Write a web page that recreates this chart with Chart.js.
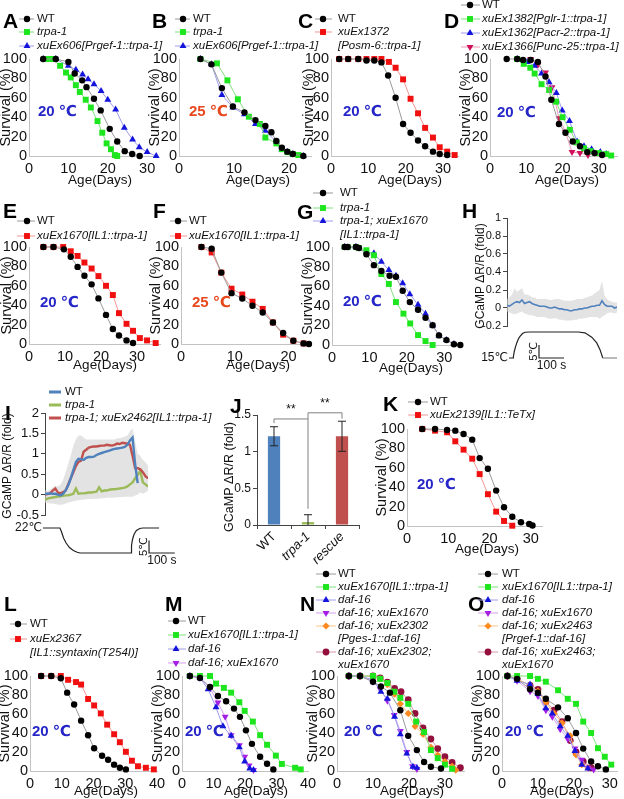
<!DOCTYPE html>
<html><head><meta charset="utf-8">
<script src="https://cdn.jsdelivr.net/npm/chart.js@4.4.1/dist/chart.umd.min.js"></script>
<style>
html,body{margin:0;padding:0;background:#fff;width:624px;height:799px;overflow:hidden;position:relative}
canvas{position:absolute}
</style></head><body>
<script>
// ===================== DATA =====================
const A_wt_day=[3.6,6.8,10,11.6,13.5,14.6,16.5,18.2,20.5,22.4,24.3,26.2,28.1];
const A_wt_surv=[100,100,97,85,78,71,59,47,28,15,5,2,0];
const A_trpa_day=[4.7,5.9,7.9,9.4,10.6,11.9,12.9,14.4,15.7,17.4,18.6,19.7,20.8,21.8,22.4];
const A_trpa_surv=[100,100,93,86,81,73,66,58,50,36,24,13,7,1,0];
const A_pan_day=[3.6,6.8,10,11.9,13.6,15,16.5,18.3,20,22,24.2,26.3,28,30,32.3];
const A_pan_surv=[100,100,93,89,84,79,74,67,58,48,29,17,9,4,0];
const B_wt_day=[3.9,5.9,7.8,9.8,11.9,13.9,15.7,16.8,17.7,18.7,19.7,20.7,22.6];
const B_wt_surv=[100,94.5,70,51,45,37,31,24.5,15.5,8.5,4.5,2,0];
const B_trpa_day=[3.9,6.9,8.8,10.7,12.7,14.7,15.7,17.7,18.7,19.7,20.7,21.7];
const B_trpa_surv=[100,95.5,78,58.5,40.5,33,19,13,7,4,2,1];
const B_pan_day=[3.9,5.9,7.8,9.8,11.9,13.9,15.7,17.7,18.7,19.7,20.7,22.6];
const B_pan_surv=[100,94.5,63,50,43,33,26,14.5,7,4,2,0];
const C_wt_day=[2.2,4.6,7.3,9.5,11.6,13.5,15.3,17.3,19.3,21.3,23.3,25.2,27.3,29.1,31.1];
const C_wt_surv=[100,100,100,98.5,98.5,96.5,83,60,33,24,16,10,4.5,2,1];
const C_osm_day=[2.2,4.6,7.3,9.5,11.6,13.5,15.5,17.3,19.3,21.3,23.3,25.2,27.3,29.1,31.1,33.1];
const C_osm_surv=[100,100,100,100,100,100,97,91,79,59,44,29,19,9,4.5,1];
const D_wt_day=[4.6,7.5,9.1,11.2,13.2,15.3,16.9,19,20.8,22.8,24.8,26.8,28.8,30.9];
const D_wt_surv=[100,100,99,99,97,82,58,33,24,15,10,4,3,1];
const D_glr_day=[7.5,9.3,11.1,12.3,14.2,16.3,18.2,20,22,23.9,25.9,27.7,30,32,33.4];
const D_glr_surv=[100,95,91,85,74,68,56,40,27,14,8,5,3,2,0.5];
const D_acr_day=[7.5,10.2,12.3,14.2,16.3,18.3,19.9,21.9,24,25.9,28,30.4,32];
const D_acr_surv=[100,97,93,85,76,65,47,36,15,10,7,4,2];
const D_unc_day=[11.2,13.2,15.3,17.1,19,20.8,22.6,24.8,27];
const D_unc_surv=[100,94,86,71,39,25,4,3,1];
const E_wt_day=[4,6.8,9.7,11.6,13.5,15.4,17.4,19.3,21.4,23.3,25,27.1,28.9];
const E_wt_surv=[100,100,97.6,90,79.5,70.3,61.5,47,30,15.4,8.8,3.7,1];
const E_il1_day=[4,6.8,9.5,11.6,13.5,15.4,17.4,19.3,21.4,23.3,25,27.1,28.9,30.8,32.8,35.2];
const E_il1_surv=[100,100,100,95.6,90.8,84,77.8,70,60,50.5,31.8,20.8,13.6,6.1,3.7,1];
const F_wt_day=[3.8,5.7,7.5,9.4,11.4,13.3,15.2,17.1,19,20.9,22.8,23.8];
const F_wt_surv=[100,98.3,73.6,52.4,46.9,39.4,32.5,22.2,11.3,3.4,0.6,0];
const F_il1_day=[3.8,5.7,7.5,9.4,11.4,13.3,15.2,17.1,19,20.9,22.8];
const F_il1_surv=[100,94.4,73.6,57,51,43.6,36.2,22.2,9.6,3.4,0.6];
const G_wt_day=[3.4,4.2,6.4,7.2,9.2,11.2,13.2,15.4,17.1,18.9,20.8,23,25,26.9,28.6,30.6,32.6,34.3];
const G_wt_surv=[100,100,100,99,92.6,81.5,75.5,70.7,69.7,55.3,43.8,36,27.7,20.2,9.8,5,0.7,0];
const G_trpa_day=[3.4,4.2,6.4,7.2,9.2,11.2,13.2,15.2,17.1,19.1,20.9,23,25,26.9];
const G_trpa_surv=[100,100,100,99,96.7,91.6,72.4,62.3,43.8,32,22,10.1,4,0];
const G_res_day=[3.4,6.4,9.2,11.2,13.2,15.2,17.1,18.9,20.8,23,25,26.9,28.6,30.6,32.6];
const G_res_surv=[100,100,95,93.6,85,76.5,70.7,63,51.9,41,32,20,9.8,5,1];
const H_time=[0,10,20,30,40,50,60,70,80,90,100,110,120,130,140,150,160,170,180,190,200,210,220,230,240,250,260,270,280,290,300,310,320,330,340,350,360,370,380,390,400,410,420,430,440];
const H_wt=[0.03,0.02,0.04,0.06,0.07,0.06,0.09,0.05,0.06,0.07,0.05,0.04,0.03,0.02,0.02,0.02,0.01,0.0,0.0,0.01,0.0,-0.01,-0.01,-0.02,-0.02,-0.03,-0.03,-0.02,-0.02,-0.01,-0.01,0.0,0.0,0.01,0.02,0.02,0.03,0.03,0.08,0.04,0.02,0.02,0.02,0.0,0.01];
const H_hi=[0.1,0.12,0.15,0.22,0.18,0.2,0.22,0.15,0.15,0.14,0.12,0.12,0.1,0.1,0.1,0.1,0.1,0.09,0.09,0.1,0.1,0.1,0.09,0.08,0.08,0.08,0.08,0.09,0.1,0.1,0.1,0.11,0.12,0.13,0.14,0.16,0.18,0.2,0.3,0.14,0.1,0.08,0.07,0.06,0.06];
const H_lo=[-0.04,-0.05,-0.06,-0.07,-0.06,-0.05,-0.04,-0.06,-0.07,-0.08,-0.08,-0.09,-0.1,-0.1,-0.1,-0.1,-0.11,-0.12,-0.12,-0.11,-0.12,-0.13,-0.13,-0.14,-0.14,-0.14,-0.14,-0.13,-0.13,-0.12,-0.12,-0.11,-0.11,-0.1,-0.1,-0.1,-0.1,-0.12,-0.1,-0.08,-0.06,-0.05,-0.05,-0.06,-0.05];
const H_tempTime=[8,24,25.5,29,34,39,46,52,62,72,92,285,312,339,359,372,383,440];
const H_tempVal=[15,15,15.5,17.5,19.3,20.8,22.4,23.3,24.4,24.9,25,25,24.7,23,20.8,18.2,15,15];
const H_ticks=[-0.2,0,0.2,0.4,0.6,0.8,1];
const I_time=[0,10,20,30,40,50,60,70,80,90,100,110,120,130,140,150,160,170,180,190,200,210,220,230,240,250,260,270,280,290,300,310,320,330,340,350,360,370,380,390,400];
const I_wt=[0.02,0.02,0.03,0.02,0.02,0.0,-0.02,0.02,0.1,0.22,0.4,0.6,0.8,0.88,0.87,0.85,0.9,0.92,0.92,0.93,0.97,1.0,1.02,1.04,1.06,1.08,1.1,1.12,1.13,1.14,1.15,1.17,1.22,1.33,1.4,0.75,0.28,null,null,null,null];
const I_trpa=[-0.12,-0.1,-0.08,-0.07,-0.06,-0.05,-0.04,-0.03,-0.02,-0.02,0.0,0.02,0.15,0.02,0.03,0.03,0.04,0.05,0.05,0.06,0.07,0.18,0.08,0.1,0.1,0.12,0.13,0.13,0.14,0.15,0.16,0.17,0.2,0.25,0.3,0.4,0.48,0.58,0.3,0.25,0.2];
const I_res=[0.0,0.01,0.03,0.1,0.15,0.05,0.03,0.06,0.1,0.25,0.4,0.55,0.7,0.8,0.83,1.05,1.1,1.15,1.17,1.18,1.18,1.19,1.2,1.2,1.22,1.21,1.2,1.22,1.25,1.24,1.27,1.26,1.25,1.22,0.95,0.65,0.65,0.62,0.55,0.45,0.4];
const I_hi=[0.1,0.1,0.12,0.18,0.22,0.2,0.25,0.35,0.55,0.75,0.95,1.2,1.35,1.45,1.45,1.4,1.35,1.35,1.35,1.35,1.35,1.35,1.35,1.35,1.35,1.35,1.35,1.35,1.38,1.38,1.4,1.42,1.45,1.55,1.62,1.3,1.0,0.95,0.85,0.8,0.7];
const I_lo=[-0.2,-0.2,-0.22,-0.22,-0.23,-0.25,-0.25,-0.24,-0.22,-0.2,-0.18,-0.16,-0.15,-0.14,-0.13,-0.12,-0.12,-0.11,-0.11,-0.1,-0.1,-0.1,-0.09,-0.09,-0.08,-0.08,-0.08,-0.07,-0.07,-0.06,-0.06,-0.05,-0.05,-0.05,-0.05,-0.02,0.0,0.05,0.02,0.05,0.1];
const I_tempTime=[-8,58,64,72,82,95,110,125,136,334,336,340,346,355,368,380,443];
const I_tempVal=[22,22,20.5,18,16,14.2,13,12.3,12,12,15,17.5,19.5,21,21.8,22,22];
const I_ticks=[-0.5,0,0.5,1,1.5,2];
const J_cats=['WT','trpa-1','rescue'];
const J_mean=[1.21,0.04,1.21];
const J_sem=[0.13,0.1,0.205];
const J_ticks=[0,0.5,1,1.5];
const K_wt_day=[3.7,6.8,9.7,11.7,13.7,15.8,17.6,19.6,21.6,23.5,25.5,27.6,29.6,30.4];
const K_wt_surv=[100,100,99,98.3,94.8,89,70,59,36.5,19.3,9.6,3.8,2.1,0.5];
const K_tetx_day=[3.7,6.8,9.7,11.7,13.7,15.8,17.6,19.6,21.6,23.5,25.5];
const K_tetx_surv=[100,98.3,96.6,87.3,78.7,69.4,53.5,32.8,14.8,5.2,0.3];
const L_wt_day=[3.5,6.7,9.7,11.7,13.9,16.1,18.3,20.2,22.7,24.6,26.5,28.3,30.2];
const L_wt_surv=[100,100,97.6,82.5,70,53,37.7,24,16,11.8,6.7,3.4,1.7];
const L_syn_day=[3.5,6.7,9.7,12,14.5,16.1,18.3,20.2,22.3,24.3,26.5,28.3,30.2,32.1,34,36.5,39];
const L_syn_surv=[100,100,100,96,93.6,91,75.8,69,60.6,48.8,38.7,30.3,20.2,10.8,5,3.4,1.7];
const M_wt_day=[2.5,5.7,8.9,11.4,14,16.5,18.4,20.3,22.2,24.8,27,29];
const M_wt_surv=[100,98,88.5,79,73.4,65.7,57,42.8,28.6,15,7.7,1.7];
const M_il1_day=[2.5,5.7,8.9,10.8,13.3,15.6,18.2,19.9,22.5,24.8,27,29.8,31.7,35.9,37.7];
const M_il1_surv=[100,100,100,92,87.5,82.5,72.4,63.3,52,37.7,27.6,16.2,7.4,3.4,1.7];
const M_daf_day=[2.5,5.7,8.3,10.8,13,15.6,18.2,19.9,21.5,22.7];
const M_daf_surv=[100,98,86,67,47,37,25,10,2.7,1];
const M_dafx_day=[2.5,5.7,8.9,11.4,13.7,15.6,18.2,19.9,21.3,22.7];
const M_dafx_surv=[100,98,87,72,57,37.7,27,15,5.7,1];
const N_wt_day=[3.3,6.4,10,12.2,14.7,17.6,19.8,22.2,24.2,26.1,28.9];
const N_wt_surv=[100,100,94,89,82.5,64,37,22,9.4,4.4,2.7];
const N_il1_day=[3.3,6.4,10,12,14,15.9,17.6,19.8,22,24.2,26.1,28,30,32];
const N_il1_surv=[100,100,100,97,92.6,83.5,77,70.7,52,41,22,13.5,6.7,2.4];
const N_daf_day=[3.3,6.4,10,12.2,14,16,17.6,19.4,21.1,22.2];
const N_daf_surv=[100,100,96,83.5,76,57,38.7,18.5,4.4,3.4];
const N_dafx_day=[3.3,6.4,10,12,14,15.9,17.6,19.4,21,22.2];
const N_dafx_surv=[100,100,94,86,74,59,42,20,5,2];
const N_ges_day=[3.3,6.4,10,12,14,16,17.6,19.8,21.7,23.9,26.1,28,30,32,33];
const N_ges_surv=[100,100,100,97,91,81,70.7,60.6,47,38.7,25,16.8,10,5,1];
const N_gesx_day=[3.3,6.4,10,12,14,16,17.8,19.8,21.7,23.9,26.1,28,30,32,34.3];
const N_gesx_surv=[100,100,100,98,93.6,87,83.5,75,60.6,45.5,33.7,23.6,15,9,3.4];
const O_wt_day=[1.5,4.2,7.8,10,12.2,15.6,18.3,20.6,22.6,24.8,26.7,28.9];
const O_wt_surv=[100,97,86,82.5,76,67,55.5,40,23.6,10,5,1.7];
const O_il1_day=[1.5,4.2,7.8,10,12.2,15.6,18.3,20.6,22.6,24.8,26.7,28.6,30.4];
const O_il1_surv=[100,100,100,97,94,85,76,70.7,52,40,24,15,6.7];
const O_daf_day=[1.5,4.2,7.8,10,12.2,14,16.2,18.3,20.3,22.2,23.9];
const O_daf_surv=[100,95,91,81,66,60.6,47,37,21,6.7,2.7];
const O_dafx_day=[1.5,4.2,7.8,10,12.2,14,16.2,18.3,20.3,22.2,24,25.5];
const O_dafx_surv=[100,95,84,79,64,57,44,33.7,23.6,11.8,3.4,1.7];
const O_rgef_day=[1.5,4.2,7.8,10,12.2,14.5,16.7,19,20.6,22.2,23.9];
const O_rgef_surv=[100,97,90,84,72,60.6,50.5,37,17,6.7,3.4];
const O_rgefx_day=[1.5,4.2,7.8,10,12.2,14.5,16.7,19,20.6,22.6,24.8];
const O_rgefx_surv=[100,97,90,86,73,64,52,32,20,10,3.4];

// ===================== STYLE / HELPERS =====================
const FONT="'Liberation Sans', Arial, 'DejaVu Sans', sans-serif";
const AX='#c2c2c2', BLUE_T='#2626c8', RED_T='#e8481e';
const LEGF=11.5;
const STY={
  wt:{ps:'circle',r:3.2,fill:'#000',line:'#9a9a9a'},
  green:{ps:'rect',r:4.2,fill:'#1ee61e',line:'#7fe27f'},
  blue:{ps:'triangle',r:4,fill:'#1414dc',line:'#9c9cf0'},
  red:{ps:'rect',r:4.2,fill:'#f01010',line:'#f59595'},
  crimson:{ps:'triangle',rot:180,r:4,fill:'#d0105a',line:'#eb9ab8'},
  violet:{ps:'triangle',rot:180,r:4,fill:'#a51ee6',line:'#d5a0f0'},
  orange:{ps:'rectRot',r:3.6,fill:'#ff8a1e',line:'#ffc488'},
  maroon:{ps:'circle',r:3.4,fill:'#94103c',line:'#d896ae'}
};
function font(sz,it,b){return (it?'italic ':'')+(b?'bold ':'')+sz+'px '+FONT;}
function mkCanvas(x0,y0,w,h){const c=document.createElement('canvas');c.width=w;c.height=h;
  c.style.left=x0+'px';c.style.top=y0+'px';c.style.width=w+'px';c.style.height=h+'px';document.body.appendChild(c);return c;}
function over(fn){return {id:'ov',afterDraw(ch){const ctx=ch.ctx;ctx.save();fn(ch,ctx);ctx.restore();}};}
function marker(ctx,key,x,y){const s=STY[key];ctx.fillStyle=s.fill;ctx.beginPath();const r=s.r;
  if(s.ps==='circle'){ctx.arc(x,y,r,0,Math.PI*2);}
  else if(s.ps==='rect'){const a=r*Math.SQRT1_2;ctx.rect(x-a,y-a,2*a,2*a);}
  else if(s.ps==='rectRot'){ctx.moveTo(x,y-r);ctx.lineTo(x+r,y);ctx.lineTo(x,y+r);ctx.lineTo(x-r,y);ctx.closePath();}
  else {let a=(s.rot||0)*Math.PI/180;for(let k=0;k<3;k++){const px=x+Math.sin(a)*r,py=y-Math.cos(a)*r;k?ctx.lineTo(px,py):ctx.moveTo(px,py);a+=2*Math.PI/3;}ctx.closePath();}
  ctx.fill();}
function segs(ctx,arr,x,y,sz){ctx.textAlign='left';ctx.textBaseline='middle';ctx.fillStyle='#111';
  arr.forEach(([t,it])=>{ctx.font=font(sz,it);ctx.fillText(t,x,y);x+=ctx.measureText(t).width;});}
function letter(ctx,t,x,y,x0,y0){ctx.fillStyle='#000';ctx.font=font(21,0,1);ctx.textAlign='left';ctx.textBaseline='middle';ctx.fillText(t,x-x0,y-y0);}
function vtext(ctx,t,x,y,sz){ctx.save();ctx.translate(x,y);ctx.rotate(-Math.PI/2);ctx.font=font(sz);ctx.fillStyle='#111';ctx.textAlign='center';ctx.textBaseline='middle';ctx.fillText(t,0,0);ctx.restore();}
const BASE={responsive:false,animation:false,devicePixelRatio:1,events:[],plugins:{legend:{display:false},tooltip:{enabled:false}}};

// ===================== SURVIVAL PANELS =====================
function survival(p){
  const [x0,y0,w,h]=p.box,[pl,pt,pr,pb]=p.plot;
  const c=mkCanvas(x0,y0,w,h);
  const datasets=p.series.map(s=>{const st=STY[s.st];return{
    data:s.x.map((v,i)=>({x:v,y:s.y[i]})),showLine:true,borderColor:st.line,borderWidth:1,
    pointStyle:st.ps,pointRotation:st.rot||0,pointRadius:st.r,pointBackgroundColor:st.fill,
    pointBorderColor:st.fill,pointBorderWidth:0,clip:false}});
  const tick={family:FONT,size:14.5};
  new Chart(c,{type:'scatter',data:{datasets},options:Object.assign({},BASE,{
    layout:{padding:{left:0,top:pt-y0,right:x0+w-pr,bottom:0}},
    scales:{
      x:{type:'linear',min:0,max:p.xmax,afterFit:s=>{s.height=y0+h-pb;},grid:{display:false,drawTicks:false},
        border:{display:true,color:AX,width:1},ticks:{stepSize:10,includeBounds:false,autoSkip:false,maxRotation:0,padding:4,color:'#111',font:tick}},
      y:{type:'linear',min:0,max:100,afterFit:s=>{s.width=pl-x0;},grid:{display:false,drawTicks:false},
        border:{display:true,color:AX,width:1},ticks:{stepSize:20,autoSkip:false,padding:2,color:'#111',font:tick}}
    }}),plugins:[over((ch,ctx)=>{
      letter(ctx,p.letter[0],p.letter[1],p.letter[2],x0,y0);
      const L=p.leg;
      L.rows.forEach(r=>{const y=r[0]-y0;
        if(r[1]){const s=STY[r[1]];ctx.strokeStyle=s.line;ctx.lineWidth=1;ctx.beginPath();ctx.moveTo(L.l1-x0,y);ctx.lineTo(L.l2-x0,y);ctx.stroke();marker(ctx,r[1],L.m-x0,y);}
        segs(ctx,r[2],L.t-x0,y,LEGF);});
      vtext(ctx,'Survival (%)',p.ytx-x0,(pt+pb)/2-y0,14.5);
      ctx.font=font(13.5);ctx.fillStyle='#111';ctx.textAlign='center';ctx.textBaseline='middle';
      ctx.fillText('Age(Days)',p.age[0]-x0,p.age[1]-y0);
      ctx.font=font(15,0,1);ctx.fillStyle=p.temp[3];ctx.textAlign='left';ctx.fillText(p.temp[0],p.temp[1]-x0,p.temp[2]-y0);
    })]});
}
const WT=[['WT',0]];
survival({box:[-1,0,181,187],plot:[29,59,157,156],xmax:32.5,letter:['A',3,22],ytx:6,age:[100,180],temp:['20 ℃',38,112,BLUE_T],
  leg:{l1:19,l2:34,m:27,t:37,rows:[[19,'wt',WT],[32,'green',[['trpa-1',1]]],[46,'blue',[['xuEx606[Prgef-1::trpa-1]',1]]]]},
  series:[{x:A_wt_day,y:A_wt_surv,st:'wt'},{x:A_trpa_day,y:A_trpa_surv,st:'green'},{x:A_pan_day,y:A_pan_surv,st:'blue'}]});
survival({box:[148,0,190,187],plot:[179,59,311,156],xmax:24,letter:['B',152,22],ytx:155,age:[258,180],temp:['25 ℃',189,112,RED_T],
  leg:{l1:175,l2:190,m:183,t:193,rows:[[19,'wt',WT],[32,'green',[['trpa-1',1]]],[46,'blue',[['xuEx606[Prgef-1::trpa-1]',1]]]]},
  series:[{x:B_wt_day,y:B_wt_surv,st:'wt'},{x:B_trpa_day,y:B_trpa_surv,st:'green'},{x:B_pan_day,y:B_pan_surv,st:'blue'}]});
survival({box:[295,0,172,187],plot:[331,59,458,156],xmax:34,letter:['C',298,22],ytx:309,age:[410,180],temp:['20 ℃',343,112,BLUE_T],
  leg:{l1:315,l2:332,m:323,t:338,rows:[[19,'wt',WT],[32,'red',[['xuEx1372',1]]],[46,null,[['[Posm-6::trpa-1]',1]]]]},
  series:[{x:C_wt_day,y:C_wt_surv,st:'wt'},{x:C_osm_day,y:C_osm_surv,st:'red'}]});
survival({box:[441,0,183,187],plot:[490,59,617,156],xmax:35,letter:['D',444,22],ytx:466,age:[567,180],temp:['20 ℃',497,113,BLUE_T],
  leg:{l1:461,l2:480,m:470,t:482,rows:[[5,'wt',WT],[19,'green',[['xuEx1382[Pglr-1::trpa-1]',1]]],[33,'blue',[['xuEx1362[Pacr-2::trpa-1]',1]]],[47,'crimson',[['xuEx1366[Punc-25::trpa-1]',1]]]]},
  series:[{x:D_wt_day,y:D_wt_surv,st:'wt'},{x:D_glr_day,y:D_glr_surv,st:'green'},{x:D_acr_day,y:D_acr_surv,st:'blue'},{x:D_unc_day,y:D_unc_surv,st:'crimson'}]});
survival({box:[-1,198,181,174],plot:[29,247,160,344],xmax:36.4,letter:['E',3,212],ytx:7,age:[105,365],temp:['20 ℃',40,303,BLUE_T],
  leg:{l1:17,l2:35,m:27,t:37,rows:[[221,'wt',WT],[236,'red',[['xuEx1670[IL1::trpa-1]',1]]]]},
  series:[{x:E_wt_day,y:E_wt_surv,st:'wt'},{x:E_il1_day,y:E_il1_surv,st:'red'}]});
survival({box:[149,198,181,174],plot:[181,247,310,344],xmax:24,letter:['F',153,212],ytx:156,age:[258,365],temp:['25 ℃',192,303,RED_T],
  leg:{l1:170,l2:187,m:178,t:189,rows:[[221,'wt',WT],[236,'red',[['xuEx1670[IL1::trpa-1]',1]]]]},
  series:[{x:F_wt_day,y:F_wt_surv,st:'wt'},{x:F_il1_day,y:F_il1_surv,st:'red'}]});
survival({box:[294,185,172,190],plot:[332,247,465,345],xmax:34.7,letter:['G',297,213],ytx:308,age:[411,368],temp:['20 ℃',343,302,BLUE_T],
  leg:{l1:313,l2:333,m:323,t:340,rows:[[193,'wt',WT],[208,'green',[['trpa-1',1]]],[221,'blue',[['trpa-1; xuEx1670',1]]],[235,null,[['[IL1::trpa-1]',1]]]]},
  series:[{x:G_wt_day,y:G_wt_surv,st:'wt'},{x:G_trpa_day,y:G_trpa_surv,st:'green'},{x:G_res_day,y:G_res_surv,st:'blue'}]});
survival({box:[375,392,249,164],plot:[407,429,542,526],xmax:32.7,letter:['K',383,405],ytx:382,age:[487,549],temp:['20 ℃',417,485,BLUE_T],
  leg:{l1:408,l2:428,m:418,t:430,rows:[[402,'wt',WT],[415,'red',[['xuEx2139[IL1::TeTx]',1]]]]},
  series:[{x:K_wt_day,y:K_wt_surv,st:'wt'},{x:K_tetx_day,y:K_tetx_surv,st:'red'}]});
survival({box:[-2,562,180,237],plot:[30,676,157,771],xmax:40,letter:['L',4,605],ytx:5,age:[106,791],temp:['20 ℃',32,732,BLUE_T],
  leg:{l1:10,l2:27,m:18,t:30,rows:[[624,'wt',WT],[639,'red',[['xuEx2367',1]]],[653,null,[['[IL1::syntaxin(T254I)]',1]]]]},
  series:[{x:L_wt_day,y:L_wt_surv,st:'wt'},{x:L_syn_day,y:L_syn_surv,st:'red'}]});
survival({box:[151,562,175,237],plot:[182,676,308,771],xmax:40,letter:['M',165,605],ytx:158,age:[256,791],temp:['20 ℃',185,732,BLUE_T],
  leg:{l1:168,l2:186,m:176,t:188,rows:[[621,'wt',WT],[635,'green',[['xuEx1670[IL1::trpa-1]',1]]],[649,'blue',[['daf-16',1]]],[663,'violet',[['daf-16; xuEx1670',1]]]]},
  series:[{x:M_wt_day,y:M_wt_surv,st:'wt'},{x:M_il1_day,y:M_il1_surv,st:'green'},{x:M_daf_day,y:M_daf_surv,st:'blue'},{x:M_dafx_day,y:M_dafx_surv,st:'violet'}]});
survival({box:[297,562,174,237],plot:[337,676,464,771],xmax:35.3,letter:['N',300,605],ytx:313,age:[412,791],temp:['20 ℃',344,732,BLUE_T],
  leg:{l1:316,l2:336,m:326,t:338,rows:[[574,'wt',WT],[587,'green',[['xuEx1670[IL1::trpa-1]',1]]],[600,'blue',[['daf-16',1]]],[613,'violet',[['daf-16; xuEx1670',1]]],[626,'orange',[['daf-16; xuEx2302',1]]],[639,null,[['[Pges-1::daf-16]',1]]],[652,'maroon',[['daf-16; xuEx2302;',1]]],[665,null,[['xuEx1670',1]]]]},
  series:[{x:N_wt_day,y:N_wt_surv,st:'wt'},{x:N_il1_day,y:N_il1_surv,st:'green'},{x:N_daf_day,y:N_daf_surv,st:'blue'},{x:N_dafx_day,y:N_dafx_surv,st:'violet'},{x:N_ges_day,y:N_ges_surv,st:'orange'},{x:N_gesx_day,y:N_gesx_surv,st:'maroon'}]});
survival({box:[465,562,159,237],plot:[502,676,617,771],xmax:32,letter:['O',468,605],ytx:478,age:[562,791],temp:['20 ℃',505,732,BLUE_T],
  leg:{l1:478,l2:498,m:488,t:502,rows:[[574,'wt',WT],[587,'green',[['xuEx1670[IL1::trpa-1]',1]]],[600,'blue',[['daf-16',1]]],[613,'violet',[['daf-16; xuEx1670',1]]],[626,'orange',[['daf-16; xuEx2463',1]]],[639,null,[['[Prgef-1::daf-16]',1]]],[652,'maroon',[['daf-16; xuEx2463;',1]]],[665,null,[['xuEx1670',1]]]]},
  series:[{x:O_wt_day,y:O_wt_surv,st:'wt'},{x:O_il1_day,y:O_il1_surv,st:'green'},{x:O_daf_day,y:O_daf_surv,st:'blue'},{x:O_dafx_day,y:O_dafx_surv,st:'violet'},{x:O_rgef_day,y:O_rgef_surv,st:'orange'},{x:O_rgefx_day,y:O_rgefx_surv,st:'maroon'}]});

// ===================== CALCIUM TRACES (H, I) =====================
function trace(p){
  const [x0,y0,w,h]=p.box,[pl,pt,pr,pb]=p.plot;
  const c=mkCanvas(x0,y0,w,h);
  const tMax=p.T.hi+(p.T.hiPx-pt)/p.T.pxPer, tMin=p.T.hi+(p.T.hiPx-pb)/p.T.pxPer;
  const xy=(xs,ys)=>xs.map((v,i)=>({x:v,y:ys[i]}));
  const ds=p.lines.map(l=>({data:xy(p.time,l.y),borderColor:l.c,borderWidth:p.lw,pointRadius:0,fill:false,yAxisID:'y'}));
  ds.push({data:xy(p.time,p.hi),borderWidth:0,pointRadius:0,fill:'+1',backgroundColor:'rgba(212,212,212,0.65)',yAxisID:'y'});
  ds.push({data:xy(p.time,p.lo),borderWidth:0,pointRadius:0,fill:false,yAxisID:'y'});
  ds.push({data:xy(p.tt,p.tv),borderColor:'#222',borderWidth:1.2,pointRadius:0,fill:false,clip:false,yAxisID:'yT',
    segment:{borderColor:ctx=>(p.greyFrom!==undefined&&ctx.p0.parsed.x>=p.greyFrom)?'#8a8a8a':'#222'}});
  const yt={family:FONT,size:p.tickSize};
  new Chart(c,{type:'line',data:{datasets:ds},options:Object.assign({},BASE,{
    layout:{padding:{left:0,top:pt-y0,right:x0+w-pr,bottom:y0+h-pb}},
    scales:{
      x:{type:'linear',min:0,max:p.xmax,display:false},
      y:{type:'linear',min:p.ymin,max:p.ymax,afterFit:s=>{s.width=pl-x0;},
        afterBuildTicks:s=>{s.ticks=p.ticks.map(v=>({value:v}));},
        grid:{display:true,drawOnChartArea:false,drawTicks:true,tickLength:4,color:'#444'},
        border:{display:true,color:'#444',width:1},ticks:{padding:2,color:'#111',font:yt,callback:v=>String(v)}},
      yT:{type:'linear',display:false,min:tMin,max:tMax}
    }}),plugins:[over((ch,ctx)=>{
      const X=ch.scales.x,YT=ch.scales.yT;
      letter(ctx,p.letter[0],p.letter[1],p.letter[2],x0,y0);
      vtext(ctx,'GCaMP \u0394R/R (fold)',p.ytx-x0,p.yty-y0,12);
      if(p.leg){p.leg.rows.forEach((r,i)=>{const y=r[0]-y0;ctx.strokeStyle=p.lines[r[2]].c;ctx.lineWidth=3;ctx.beginPath();ctx.moveTo(p.leg.l1-x0,y);ctx.lineTo(p.leg.l2-x0,y);ctx.stroke();segs(ctx,r[1],p.leg.t-x0,y,LEGF);});}
      ctx.font=font(12);ctx.fillStyle='#111';ctx.textAlign='right';ctx.textBaseline='middle';
      ctx.fillText(p.T.label,X.getPixelForValue(p.tt[0])-1,YT.getPixelForValue(p.tv[0]));
      const sb=p.bar, bx=X.getPixelForValue(sb.t), by=YT.getPixelForValue(sb.T), by2=YT.getPixelForValue(sb.T+5), bx2=X.getPixelForValue(sb.t+100);
      ctx.strokeStyle='#222';ctx.lineWidth=1.2;ctx.beginPath();ctx.moveTo(bx,by2);ctx.lineTo(bx,by);ctx.lineTo(bx2,by);ctx.stroke();
      ctx.save();ctx.translate(bx-5,(by+by2)/2);ctx.rotate(-Math.PI/2);ctx.font=font(11);ctx.textAlign='center';ctx.fillText('5℃',0,0);ctx.restore();
      ctx.font=font(12);ctx.textAlign='center';ctx.fillText('100 s',(bx+bx2)/2,by+8);
    })]});
}
trace({box:[460,198,164,175],plot:[507,218,617,326],xmax:440,ymin:-0.2,ymax:1,ticks:H_ticks,tickSize:11,lw:1.6,
  letter:['H',462,212],ytx:481,yty:276,time:H_time,lines:[{y:H_wt,c:'#4f81bd'}],hi:H_hi,lo:H_lo,
  tt:H_tempTime,tv:H_tempVal,greyFrom:383,T:{hi:25,hiPx:332,pxPer:2.6,label:'15℃'},bar:{t:128,T:15}});
trace({box:[0,385,222,185],plot:[45,413,148,515],xmax:400,ymin:-0.5,ymax:2,ticks:I_ticks,tickSize:13,lw:2.4,
  letter:['I',5,414],ytx:8,yty:466,time:I_time,lines:[{y:I_wt,c:'#4f81bd'},{y:I_res,c:'#c0504d'},{y:I_trpa,c:'#9bbb59'}],hi:I_hi,lo:I_lo,
  tt:I_tempTime,tv:I_tempVal,T:{hi:22,hiPx:528,pxPer:2.5,label:'22℃'},bar:{t:404,T:12},
  leg:{l1:49,l2:61,t:65,rows:[[392,WT,0],[405,[['trpa-1',1]],2],[418,[['trpa-1; xuEx2462[IL1::trpa-1]',1]],1]]}});

// ===================== J: BAR CHART =====================
(function(){
  const x0=200,y0=395,w=170,h=178,pl=257,pt=415,pr=359,pb=525;
  const c=mkCanvas(x0,y0,w,h);
  new Chart(c,{type:'bar',data:{labels:J_cats,datasets:[{data:J_mean,backgroundColor:['#4f81bd','#9bbb59','#c0504d'],barPercentage:0.36,categoryPercentage:1}]},
    options:Object.assign({},BASE,{
      layout:{padding:{left:0,top:pt-y0,right:x0+w-pr,bottom:0}},
      scales:{
        x:{afterFit:s=>{s.height=y0+h-pb;},grid:{display:true,drawOnChartArea:false,drawTicks:true,tickLength:4,color:'#444',offset:true},
          border:{display:true,color:'#444',width:1},
          ticks:{minRotation:45,maxRotation:45,padding:0,color:'#111',font:(ctx)=>({family:FONT,size:13,style:ctx.index>0?'italic':'normal'})}},
        y:{min:0,max:1.5,afterFit:s=>{s.width=pl-x0;},afterBuildTicks:s=>{s.ticks=J_ticks.map(v=>({value:v}));},
          grid:{display:true,drawOnChartArea:false,drawTicks:true,tickLength:4,color:'#444'},
          border:{display:true,color:'#444',width:1},ticks:{padding:2,color:'#111',font:{family:FONT,size:12},callback:v=>String(v)}}
      }}),plugins:[over((ch,ctx)=>{
        const X=ch.scales.x,Y=ch.scales.y;
        letter(ctx,'J',230,407,x0,y0);
        vtext(ctx,'GCaMP \u0394R/R (fold)',230-x0,477-y0,12.5);
        ctx.strokeStyle='#222';ctx.lineWidth=1;
        J_mean.forEach((m,i)=>{const cx=X.getPixelForValue(i),t=Y.getPixelForValue(m+J_sem[i]),b=Math.min(Y.getPixelForValue(m-J_sem[i]),Y.bottom);
          ctx.beginPath();ctx.moveTo(cx,t);ctx.lineTo(cx,b);ctx.moveTo(cx-4,t);ctx.lineTo(cx+4,t);
          if(b<Y.bottom){ctx.moveTo(cx-4,b);ctx.lineTo(cx+4,b);}ctx.stroke();});
        const px=i=>X.getPixelForValue(i),py=v=>Y.getPixelForValue(v);
        ctx.strokeStyle='#808080';ctx.beginPath();
        ctx.moveTo(px(0),py(1.39));ctx.lineTo(px(0),py(1.446));ctx.lineTo(px(1),py(1.446));
        ctx.moveTo(px(1),py(0.22));ctx.lineTo(px(1),py(1.53));ctx.lineTo(px(2),py(1.53));ctx.lineTo(px(2),py(1.45));ctx.stroke();
        ctx.fillStyle='#111';ctx.font=font(12);ctx.textAlign='center';ctx.textBaseline='middle';
        ctx.fillText('**',(px(0)+px(1))/2,py(1.57));ctx.fillText('**',(px(1)+px(2))/2,py(1.655));
      })]});
})();
</script>
</body></html>
